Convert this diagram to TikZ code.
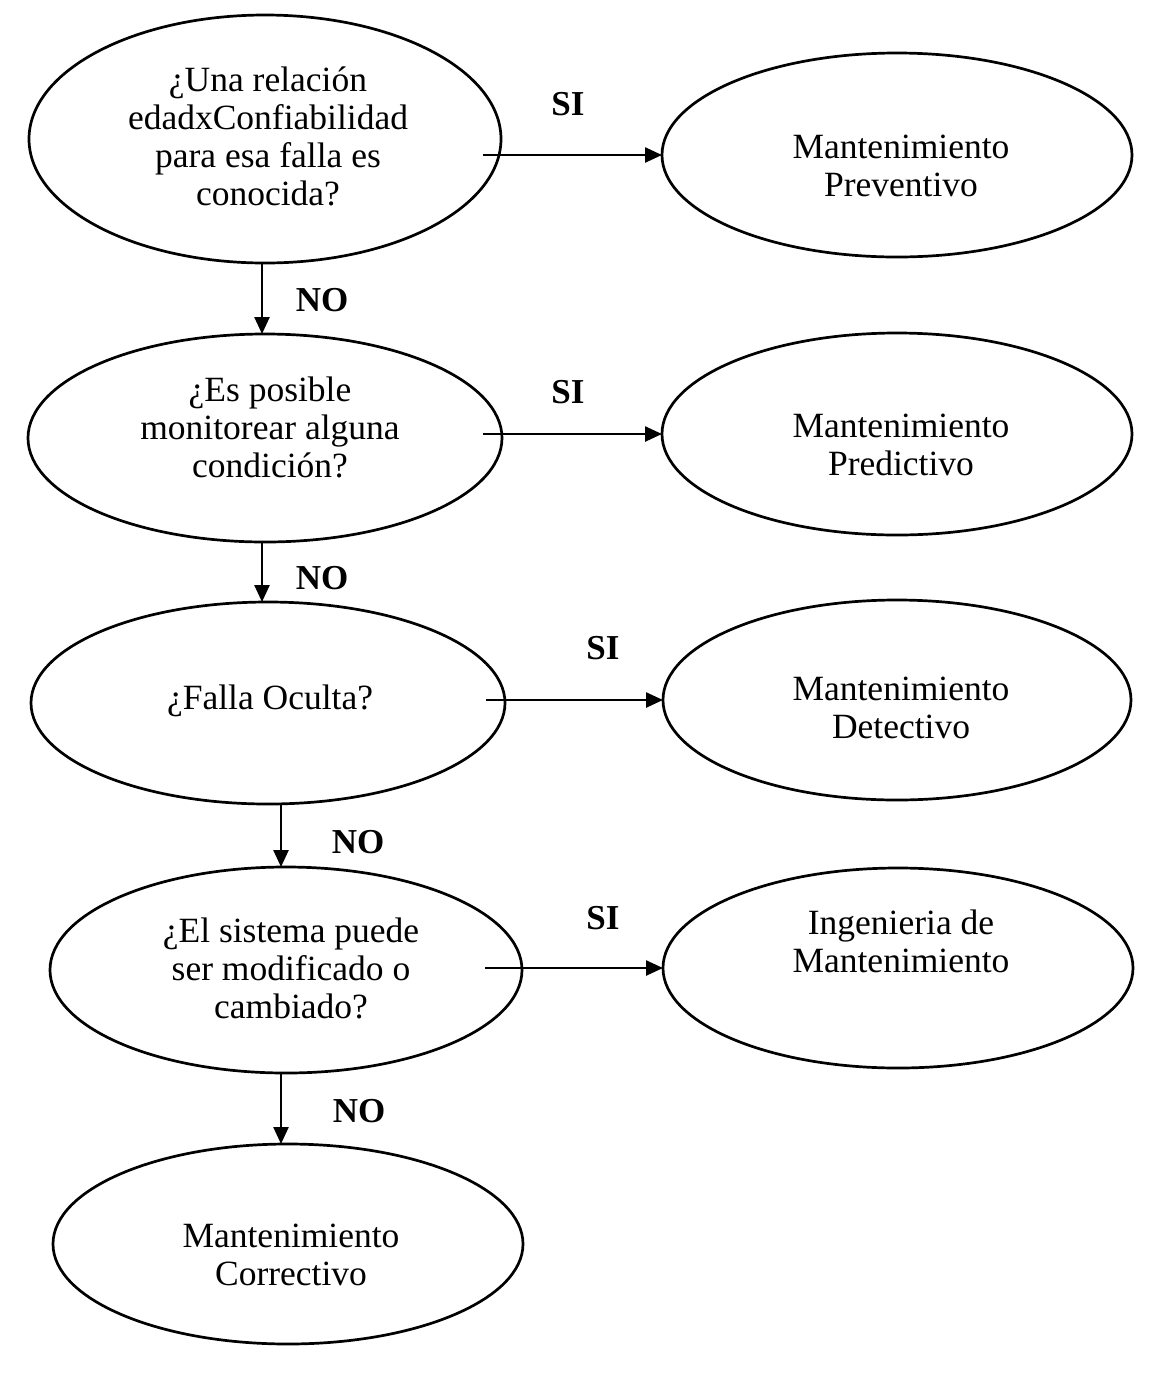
\documentclass[tikz,border=0pt]{standalone}
\usepackage{fontspec}
\setmainfont{Liberation Serif}
\usetikzlibrary{shapes.geometric,arrows.meta}
\begin{document}
\begin{tikzpicture}[x=0.5pt,y=-0.5pt,
  blob/.style={draw, ellipse, line width=1.35pt, inner sep=0pt, outer sep=0pt},
  txt/.style={align=center, font=\fontsize{17.75pt}{19pt}\selectfont, inner sep=0pt},
  tag/.style={font=\fontsize{17.5pt}{19pt}\selectfont\bfseries, inner sep=0pt},
  arr/.style={line width=1.25pt, -{Triangle[length=8.5pt,width=7.5pt]}}]
\useasboundingbox (0,0) rectangle (1162,1378);

% question column
\node[blob, minimum width=236pt, minimum height=124pt] (q1) at (265,139) {};
\node[blob, minimum width=237pt, minimum height=104pt] (q2) at (265,438) {};
\node[blob, minimum width=237pt, minimum height=101pt] (q3) at (268,703) {};
\node[blob, minimum width=236pt, minimum height=103pt] (q4) at (286,970) {};
\node[blob, minimum width=235pt, minimum height=100pt] (q5) at (288,1244) {};

% outcome column
\node[blob, minimum width=235pt, minimum height=102pt] (r1) at (897,155) {};
\node[blob, minimum width=235pt, minimum height=101pt] (r2) at (897,434) {};
\node[blob, minimum width=234pt, minimum height=100pt] (r3) at (897,700) {};
\node[blob, minimum width=235pt, minimum height=100pt] (r4) at (898,968) {};

% texts
\node[txt] (t1) at (268,136) {¿Una relación\\edadxConfiabilidad\\para esa falla es\\conocida?};
\node[txt] (t2) at (270,427) {¿Es posible\\monitorear alguna\\condición?};
\node[txt] (t3) at (270,701) {¿Falla Oculta?};
\node[txt] (t4) at (291,968) {¿El sistema puede\\ser modificado o\\cambiado?};
\node[txt] (t5) at (291,1255) {Mantenimiento\\Correctivo};
\node[txt] (u1) at (901,166) {Mantenimiento\\Preventivo};
\node[txt] (u2) at (901,445) {Mantenimiento\\Predictivo};
\node[txt] (u3) at (901,708) {Mantenimiento\\Detectivo};
\node[txt] (u4) at (901,941) {Ingenieria de\\Mantenimiento};

% columns of the downward connectors
\coordinate (c1) at (262,0);
\coordinate (c2) at (281,0);

% NO connectors
\draw[arr] (c1 |- q1.south) -- (c1 |- q2.north);
\draw[arr] (c1 |- q2.south) -- (c1 |- q3.north);
\draw[arr] (c2 |- q3.south) -- (c2 |- q4.north);
\draw[arr] (c2 |- q4.south) -- (c2 |- q5.north);

% SI connectors
\draw[arr] ([xshift=-89.5pt]r1.west) -- (r1.west);
\draw[arr] ([xshift=-89.5pt]r2.west) -- (r2.west);
\draw[arr] ([xshift=-88.5pt]r3.west) -- (r3.west);
\draw[arr] ([xshift=-89pt]r4.west) -- (r4.west);

% branch labels
\node[tag] (si1) at (568,104) {SI};
\node[tag] (si2) at (568,392) {SI};
\node[tag] (si3) at (603,648) {SI};
\node[tag] (si4) at (603,918) {SI};
\node[tag] (no1) at (322,300) {NO};
\node[tag] (no2) at (322,578) {NO};
\node[tag] (no3) at (358,842) {NO};
\node[tag] (no4) at (359,1111) {NO};
\end{tikzpicture}
\end{document}
